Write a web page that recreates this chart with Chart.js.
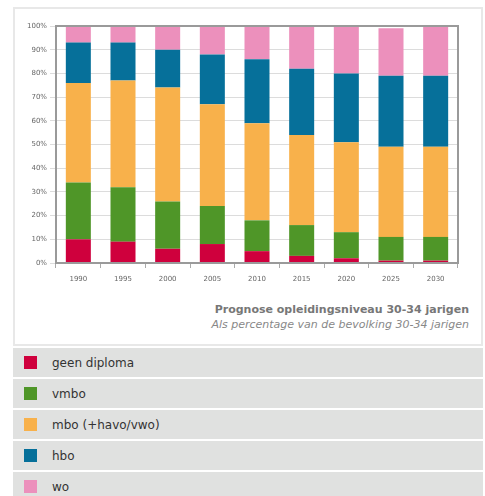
<!DOCTYPE html>
<html>
<head>
<meta charset="utf-8">
<script src="https://cdn.jsdelivr.net/npm/chart.js@4"></script>
<style>
  body { margin: 0; background: #fff; font-family: "DejaVu Sans", Verdana, sans-serif; }
  #card { position: absolute; left: 13px; top: 7px; width: 466px; height: 335px; border: 2px solid #e8e8e8; background: #fff; }
  #wrap { position: absolute; left: -15px; top: -9px; width: 485px; height: 290px; }
  #title { position: absolute; right: 12px; top: 293px; text-align: right; font-size: 11px; line-height: 15px; }
  #title b { color: #777; }
  #title i { color: #888; }
  #legend { position: absolute; left: 13px; top: 348px; width: 470px; }
  .row { height: 29px; background: #e0e1e0; margin-bottom: 2px; position: relative; }
  .sw { position: absolute; left: 11px; top: 8px; width: 13px; height: 13px; }
  .lab { position: absolute; left: 39px; top: 8px; font-size: 12px; color: #333; }
</style>
</head>
<body>
<div id="card">
  <div id="wrap"><canvas id="chart" width="485" height="290"></canvas></div>
  <div id="title"><b>Prognose opleidingsniveau 30-34 jarigen</b><br><i>Als percentage van de bevolking 30-34 jarigen</i></div>
</div>
<div id="legend"></div>
<script>
const years = ['1990', '1995', '2000', '2005', '2010', '2015', '2020', '2025', '2030'];
const seriesNames = ['geen diploma', 'vmbo', 'mbo (+havo/vwo)', 'hbo', 'wo'];
const geenDiploma = [10, 9, 6, 8, 5, 3, 2, 1, 1];
const vmbo = [24, 23, 20, 16, 13, 13, 11, 10, 10];
const mbo = [42, 45, 48, 43, 41, 38, 38, 38, 38];
const hbo = [17, 16, 16, 21, 27, 28, 29, 30, 30];
const wo = [7, 7, 10, 12, 14, 18, 20, 20, 21];
const colors = ['#cf003d', '#4f9628', '#f8b14b', '#06709a', '#ec90bc'];
const yTicks = [0, 10, 20, 30, 40, 50, 60, 70, 80, 90, 100];

const values = [geenDiploma, vmbo, mbo, hbo, wo];

// frame round the plot area
const frame = {
    id: 'frame',
    afterDraw(chart) {
        const a = chart.chartArea;
        const ctx = chart.ctx;
        ctx.save();
        ctx.strokeStyle = '#9a9a9a';
        ctx.lineWidth = 2;
        ctx.strokeRect(a.left, a.top, a.right - a.left, a.bottom - a.top);
        ctx.restore();
    }
};

new Chart(document.getElementById('chart'), {
    type: 'bar',
    data: {
        labels: years,
        datasets: seriesNames.map((name, i) => ({
            label: name,
            data: values[i],
            backgroundColor: colors[i],
            borderWidth: 0,
            categoryPercentage: 1,
            barPercentage: 0.56
        }))
    },
    plugins: [frame],
    options: {
        responsive: false,
        animation: false,
        layout: { padding: { left: 16, right: 27, top: 26, bottom: 0 } },
        plugins: {
            legend: { display: false },
            tooltip: { enabled: false }
        },
        scales: {
            x: {
                stacked: true,
                afterFit(s) { s.height = 27; },
                grid: { display: true, drawOnChartArea: false, tickLength: 5, color: '#aaa', offset: true },
                border: { display: false },
                ticks: { color: '#666', font: { family: 'DejaVu Sans', size: 7 }, padding: 7, maxRotation: 0 }
            },
            y: {
                stacked: true,
                min: 0,
                max: 100,
                afterFit(s) { s.width = 40; },
                afterBuildTicks(s) { s.ticks = yTicks.map(v => ({ value: v })); },
                grid: { color: '#dcdcdc', tickLength: 6, lineWidth: 1 },
                border: { display: false },
                ticks: {
                    color: '#666',
                    font: { family: 'DejaVu Sans', size: 7 },
                    padding: 3,
                    callback: v => v + '%'
                }
            }
        }
    }
});

const legend = document.getElementById('legend');
seriesNames.forEach((name, i) => {
    const row = document.createElement('div');
    row.className = 'row';
    row.innerHTML = '<span class="sw" style="background:' + colors[i] + '"></span><span class="lab">' + name + '</span>';
    legend.appendChild(row);
});
</script>
</body>
</html>
